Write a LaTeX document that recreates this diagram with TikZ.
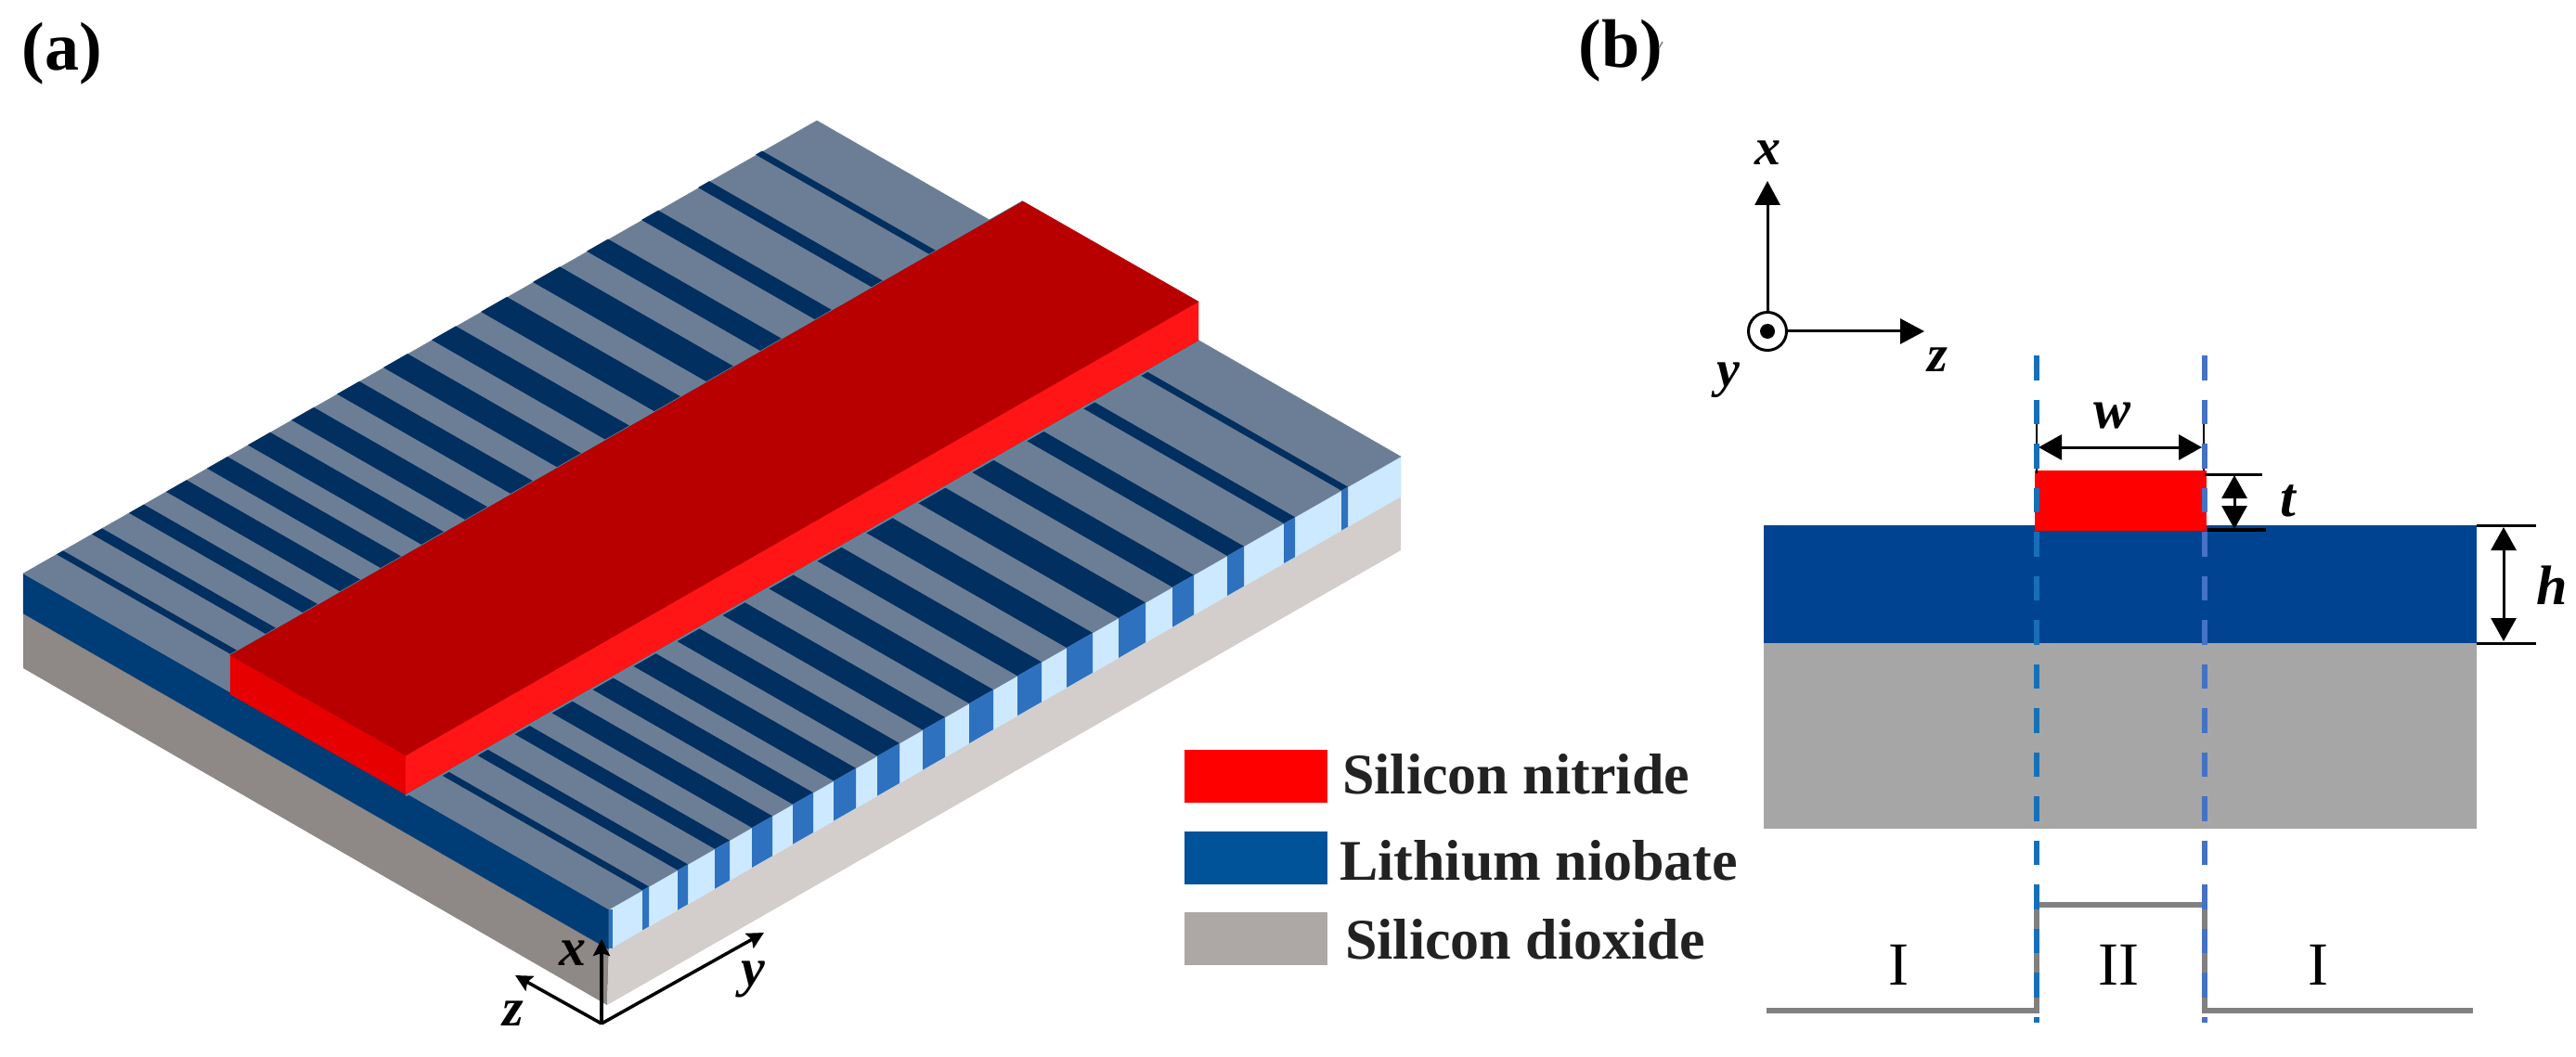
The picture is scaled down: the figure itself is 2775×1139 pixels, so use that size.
\documentclass[tikz,border=0pt]{standalone}
\usepackage{fontspec}
\setmainfont{Liberation Serif}
\usetikzlibrary{arrows.meta}
\definecolor{topgrey}{HTML}{6C7E96}
\definecolor{stripe}{HTML}{002F60}
\definecolor{lnleft}{HTML}{003C75}
\definecolor{frontlight}{HTML}{CCE9FF}
\definecolor{frontdark}{HTML}{2E72BF}
\definecolor{sioleft}{HTML}{8E8886}
\definecolor{siofront}{HTML}{D3CECC}
\definecolor{redtop}{HTML}{B90000}
\definecolor{redleft}{HTML}{E60000}
\definecolor{redright}{HTML}{FF1515}
\definecolor{rededge}{HTML}{4A90A8}
\definecolor{lnb}{HTML}{004391}
\definecolor{siob}{HTML}{A6A6A6}
\definecolor{legblue}{HTML}{005299}
\definecolor{leggrey}{HTML}{ADA8A6}
\definecolor{dashl}{HTML}{1570B8}
\definecolor{dashr}{HTML}{4472C4}
\definecolor{stepgrey}{HTML}{808080}
\definecolor{legtext}{HTML}{222222}
\tikzset{
  face/.style={fill=#1,draw=#1,line width=0.4pt},
  legbox/.style={fill=#1,draw=none},
  legtxt/.style={anchor=base west,inner sep=0pt,text=legtext,font=\fontsize{62}{70}\selectfont\bfseries},
  panel/.style={anchor=center,inner sep=0pt,font=\fontsize{74}{80}\selectfont\bfseries},
  axa/.style={inner sep=0pt,font=\fontsize{58}{60}\selectfont\bfseries\itshape},
  axb/.style={inner sep=0pt,font=\fontsize{56}{60}\selectfont\bfseries\itshape},
  dimlab/.style={inner sep=0pt,font=\fontsize{60}{60}\selectfont\bfseries\itshape},
  region/.style={inner sep=0pt,font=\fontsize{66}{70}\selectfont},
  arra/.style={-{Stealth[length=18pt,width=18pt,inset=3pt]},line width=3.5pt,black},
  arrb/.style={-{Triangle[length=26pt,width=27pt]},line width=3pt,black},
  dimarr/.style={{Triangle[length=25pt,width=27pt]}-{Triangle[length=25pt,width=27pt]},line width=3pt,black},
  dimline/.style={line width=3pt,black},
  stepline/.style={line width=5.5pt,stepgrey},
  cutline/.style={line width=6pt,dash pattern=on 26.5pt off 21pt},
}
\begin{document}
\begin{tikzpicture}[x=1pt,y=-1pt]
\useasboundingbox (0,0) rectangle (2775,1139);
\fill[white] (0,0) rectangle (2775,1139);
% slab corners
\coordinate (L) at (25,618);
\coordinate (B) at (880,130);
\coordinate (R) at (1509,492);
\coordinate (F) at (656,980);
% silicon dioxide
\fill[sioleft] (25,661) -- (656,1023) -- (654,1083) -- (25,720) -- cycle;
\fill[siofront] (656,1023) -- (1509,535) -- (1509,593) -- (654,1083) -- cycle;
% lithium niobate
\draw[face=lnleft] (L) -- (F) -- (656,1023) -- (25,661) -- cycle;
\draw[face=frontlight] (F) -- (R) -- (1509,535) -- (656,1023) -- cycle;
\draw[face=topgrey] (L) -- (B) -- (R) -- (F) -- cycle;
\fill[frontdark] (656,980) rectangle (659.5,1022);
% grating
\foreach \xa/\xb in {692/699,730/741,770/786,810/832,854/876,898/922,945/969,994/1018,1044/1070,1096/1122,1149/1177,1205/1234,1263/1286,1322/1340,1383/1395,1445/1452}{
  \pgfmathsetmacro\ya{980-(\xa-656)*0.5721}
  \pgfmathsetmacro\yb{980-(\xb-656)*0.5721}
  \fill[stripe] (\xa,\ya) -- (\xb,\yb) -- (\xb-631,\yb-362) -- (\xa-631,\ya-362) -- cycle;
  \fill[frontdark] (\xa,\ya) -- (\xb,\yb) -- (\xb,\yb+43) -- (\xa,\ya+43) -- cycle;
}
% nitride ridge
\coordinate (A) at (248,706);
\coordinate (C) at (437,814);
\coordinate (D) at (1291,325);
\coordinate (E) at (1102,217);
\draw[rededge,line width=2pt] (A) -- (E);
\draw[rededge,line width=2.5pt] (437,857) -- (1291,368);
\draw[face=redleft] (A) -- (C) -- (437,856) -- (248,748) -- cycle;
\draw[face=redright] (C) -- (D) -- (1291,367) -- (437,856) -- cycle;
\draw[face=redtop] (A) -- (C) -- (D) -- (E) -- cycle;
% axes of panel a
\coordinate (Oa) at (648,1103);
\coordinate (Xa) at (648,1012);
\coordinate (Za) at (555,1051);
\coordinate (Ya) at (823,1005);
\draw[arra] (Oa) -- (Xa);
\draw[arra] (Oa) -- (Za);
\draw[arra] (Oa) -- (Ya);
\node[axa] (xa) at (617,1027) {x};
\node[axa] (za) at (553,1092) {z};
\node[axa] (ya) at (811,1055) {y};
% panel labels
\node[panel] (pa) at (67,58) {(a)};
\node[panel] (pb) at (1746,55) {(b)};
\draw[gray,line width=1.5pt] (1787,52) -- (1791,45);
% legend
\fill[legbox=red] (1276,808) rectangle (1430,865);
\fill[legbox=legblue] (1276,896) rectangle (1430,953);
\fill[legbox=leggrey] (1276,983) rectangle (1430,1040);
\node[legtxt] (l1) at (1446,855) {Silicon nitride};
\node[legtxt] (l2) at (1443,948) {Lithium niobate};
\node[legtxt] (l3) at (1449,1033) {Silicon dioxide};
% panel b layers
\fill[siob] (1900,693) rectangle (2668,893);
\fill[lnb] (1900,566) rectangle (2668,693);
\fill[red] (2192,507) rectangle (2377,572);
% step profile
\draw[stepline,line join=miter] (1903,1089) -- (2194,1089) -- (2194,975) -- (2375,975) -- (2375,1089) -- (2664,1089);
% dimension lines
\draw[line width=2.5pt] (2194,457) -- (2194,510);
\draw[line width=2.5pt] (2374,457) -- (2374,507);
\coordinate (w1) at (2196,482);
\coordinate (w2) at (2372,482);
\draw[dimarr] (w1) -- (w2);
\node[dimlab] (wl) at (2275,448) {w};
\draw[dimline] (2375,511) -- (2437,511);
\draw[line width=4pt] (2378,570.5) -- (2441,570.5);
\coordinate (t1) at (2407,512);
\coordinate (t2) at (2407,570);
\draw[{Triangle[length=25pt,width=27pt]}-{Triangle[length=25pt,width=27pt]},line width=3pt] (t1) -- (t2);
\node[dimlab] (tl) at (2465,540) {t};
\draw[dimline] (2668,566) -- (2732,566);
\draw[dimline] (2668,693) -- (2732,693);
\coordinate (h1) at (2697,568);
\coordinate (h2) at (2697,691);
\draw[dimarr] (h1) -- (h2);
\node[dimlab] (hl) at (2749,631) {h};
% cut lines
\draw[cutline,dashl] (2194,383) -- (2194,1102);
\draw[cutline,dashr] (2375,383) -- (2375,1102);
% region labels
\node[region] (r1) at (2045,1040) {I};
\node[region] (r2) at (2282,1040) {II};
\node[region] (r3) at (2497,1040) {I};
% axes of panel b
\coordinate (Xb) at (1904,195);
\coordinate (Zb) at (2073,357);
\node[circle,draw=black,line width=3pt,minimum size=41pt,inner sep=0pt] (Ob) at (1904,357) {};
\fill[black] (Ob.center) circle (8);
\draw[arrb] (Ob.north) -- (Xb);
\draw[arrb] (Ob.east) -- (Zb);
\node[axb] (xb) at (1904,165) {x};
\node[axb] (zb) at (2087,388) {z};
\node[axb] (yb) at (1862,410) {y};
\end{tikzpicture}
\end{document}
